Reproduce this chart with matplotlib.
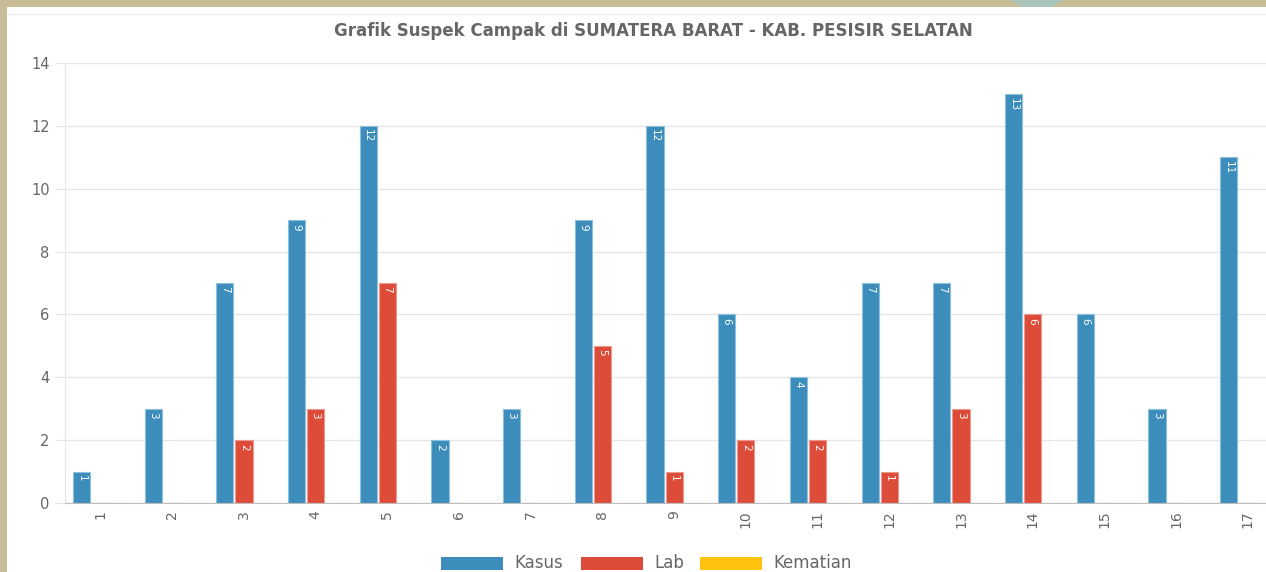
import matplotlib
matplotlib.use("Agg")
import matplotlib.pyplot as plt
from matplotlib.patches import Rectangle, Polygon
from matplotlib.lines import Line2D
import numpy as np

plt.rcParams['font.family'] = ['DejaVu Sans']

title = "Grafik Suspek Campak di SUMATERA BARAT - KAB. PESISIR SELATAN"
categories = [str(i) for i in range(1, 18)]
kasus = [1, 3, 7, 9, 12, 2, 3, 9, 12, 6, 4, 7, 7, 13, 6, 3, 11]
lab = [0, 0, 2, 3, 7, 0, 0, 5, 1, 2, 2, 1, 3, 6, 0, 0, 0]
kematian = [0] * 17
series_names = ["Kasus", "Lab", "Kematian"]
colors = ["#3c8dbc", "#dd4b39", "#ffc20e"]
edge_colors = ["#8cc0de", "#ec9a8f", "#ffe08a"]
yticks = [0, 2, 4, 6, 8, 10, 12, 14]

W, H = 1266, 572
fig = plt.figure(figsize=(W / 100, H / 100), dpi=100)
fig.patch.set_facecolor("white")

# frame decoration
fig.patches.append(Rectangle((0, 1 - 7 / H), 1, 7 / H, transform=fig.transFigure,
                             facecolor="#c6bc95", edgecolor="none", zorder=0))
fig.patches.append(Rectangle((0, 0), 7 / W, 1, transform=fig.transFigure,
                             facecolor="#c6bc95", edgecolor="none", zorder=0))
fig.patches.append(Polygon([(1010 / W, 1), (1063 / W, 1), (1052 / W, 1 - 7 / H), (1022 / W, 1 - 7 / H)],
                           closed=True, transform=fig.transFigure,
                           facecolor="#a9c4bb", edgecolor="none", zorder=1))
fig.lines.append(Line2D([7 / W, 1], [1 - 13.5 / H, 1 - 13.5 / H], transform=fig.transFigure,
                        color="#ececec", lw=1))

left_px, right_px, top_px, bot_px = 64.7, 1283.6, 63, 503
ax = fig.add_axes([left_px / W, 1 - bot_px / H, (right_px - left_px) / W, (bot_px - top_px) / H])
ax.set_facecolor("none")

n = len(categories)
x = np.arange(n)
slot = 0.8 / 3
bw = slot * 0.9
series = [kasus, lab, kematian]
for i, (vals, c, ec) in enumerate(zip(series, colors, edge_colors)):
    pos = x - 0.4 + slot * (i + 0.5)
    ax.bar(pos, vals, width=bw, color=c, edgecolor=ec, linewidth=0.8, zorder=3)
    for xp, v in zip(pos, vals):
        if v > 0:
            ax.annotate(str(v), (xp, v), xytext=(0, -2.5), textcoords="offset points",
                        ha="center", va="top", rotation=-90, color="white",
                        fontsize=7.5, zorder=4)

ax.set_xlim(-0.5, n - 0.5)
ax.set_ylim(0, 14)
ax.set_yticks(yticks)
ax.set_yticklabels([str(t) for t in yticks])
ax.set_xticks(x)
ax.set_xticklabels(categories, rotation=90, ha="center", va="top")
ax.tick_params(axis="y", length=7.2, color="#e6e6e6", labelcolor="#666666", labelsize=10.5, pad=3.6)
ax.tick_params(axis="x", length=0, labelcolor="#666666", labelsize=10, pad=5)
ax.grid(axis="y", color="#e6e6e6", linewidth=1, zorder=0)
ax.grid(axis="x", visible=False)
for s in ["top", "right"]:
    ax.spines[s].set_visible(False)
ax.spines["left"].set_color("#e6e6e6")
ax.spines["bottom"].set_color("#bdbdbd")
ax.spines["bottom"].set_zorder(5)

fig.text(653 / W, 1 - 31 / H, title, ha="center", va="center", fontsize=12,
         fontweight="bold", color="#666666")

# legend
sw_x = [441, 581, 700]
for name, c, sx in zip(series_names, colors, sw_x):
    fig.patches.append(Rectangle((sx / W, 1 - 570 / H), 62 / W, 13 / H, transform=fig.transFigure,
                                 facecolor=c, edgecolor="none"))
    fig.text((sx + 73) / W, 1 - 563 / H, name, ha="left", va="center", fontsize=12, color="#666666")

fig.savefig("out.png", dpi=100)
